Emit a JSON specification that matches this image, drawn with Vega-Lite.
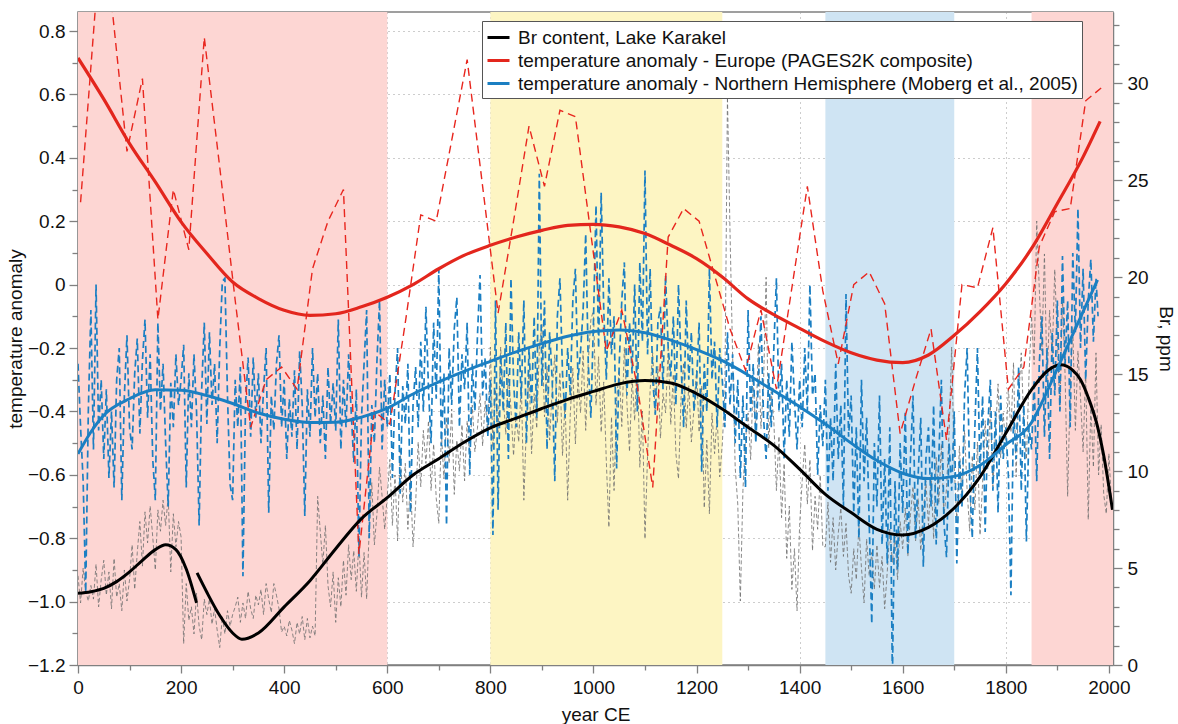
{
  "$schema": "https://vega.github.io/schema/vega-lite/v6.json",
  "width": 1035,
  "height": 653,
  "autosize": {"type": "none"},
  "padding": {"left": 78, "top": 12, "right": 65, "bottom": 59},
  "background": "white",
  "config": {
    "font": "Liberation Sans",
    "view": {"stroke": "#808080", "strokeWidth": 1.5},
    "axis": {
      "labelFont": "Liberation Sans", "labelFontSize": 19, "labelColor": "#111111",
      "titleFont": "Liberation Sans", "titleFontSize": 19, "titleFontWeight": "normal", "titleColor": "#111111",
      "domainColor": "#808080", "domainWidth": 1.5, "tickColor": "#808080", "tickWidth": 1.3,
      "gridColor": "#9a9a9a", "gridDash": [1, 4], "gridWidth": 1, "zindex": 1
    }
  },
  "datasets": {
    "periods": [
      {"period": "Roman Warm Period", "start": 0, "end": 600},
      {"period": "Medieval Climate Anomaly", "start": 800, "end": 1250},
      {"period": "Little Ice Age", "start": 1450, "end": 1700},
      {"period": "Modern warming", "start": 1850, "end": 2008}
    ],
    "brRaw": [
      {"year":0,"ppm":4.6},{"year":5,"ppm":3.2},{"year":10,"ppm":5.0},{"year":15,"ppm":3.8},{"year":20,"ppm":3.3},{"year":25,"ppm":4.1},{"year":30,"ppm":3.4},{"year":35,"ppm":5.2},{"year":40,"ppm":3.0},{"year":45,"ppm":4.4},
      {"year":50,"ppm":5.4},{"year":55,"ppm":3.6},{"year":60,"ppm":4.8},{"year":65,"ppm":2.9},{"year":70,"ppm":5.5},{"year":75,"ppm":3.5},{"year":80,"ppm":4.2},{"year":85,"ppm":2.8},{"year":90,"ppm":4.9},{"year":95,"ppm":3.3},
      {"year":100,"ppm":4.4},{"year":105,"ppm":6.2},{"year":110,"ppm":3.9},{"year":115,"ppm":5.8},{"year":120,"ppm":7.4},{"year":125,"ppm":5.1},{"year":130,"ppm":7.9},{"year":135,"ppm":6.3},{"year":140,"ppm":8.2},{"year":145,"ppm":6.6},
      {"year":150,"ppm":4.9},{"year":155,"ppm":8.0},{"year":160,"ppm":6.9},{"year":165,"ppm":8.5},{"year":170,"ppm":7.2},{"year":175,"ppm":8.7},{"year":180,"ppm":4.8},{"year":185,"ppm":7.8},{"year":190,"ppm":6.1},{"year":195,"ppm":7.4},
      {"year":200,"ppm":6.6},{"year":205,"ppm":1.1},{"year":210,"ppm":4.2},{"year":215,"ppm":2.3},{"year":220,"ppm":3.0},{"year":225,"ppm":1.6},{"year":230,"ppm":3.7},{"year":235,"ppm":2.0},{"year":240,"ppm":1.3},{"year":245,"ppm":3.4},
      {"year":250,"ppm":2.6},{"year":255,"ppm":3.4},{"year":260,"ppm":2.1},{"year":265,"ppm":2.9},{"year":270,"ppm":1.8},{"year":275,"ppm":0.9},{"year":280,"ppm":2.5},{"year":285,"ppm":1.6},{"year":290,"ppm":2.8},{"year":295,"ppm":2.0},
      {"year":300,"ppm":2.6},{"year":305,"ppm":3.0},{"year":310,"ppm":3.5},{"year":315,"ppm":2.2},{"year":320,"ppm":3.2},{"year":325,"ppm":2.4},{"year":330,"ppm":3.8},{"year":335,"ppm":2.9},{"year":340,"ppm":2.4},{"year":345,"ppm":3.6},
      {"year":350,"ppm":3.1},{"year":355,"ppm":3.9},{"year":360,"ppm":2.6},{"year":365,"ppm":4.2},{"year":370,"ppm":3.4},{"year":375,"ppm":2.7},{"year":380,"ppm":4.2},{"year":385,"ppm":3.6},{"year":390,"ppm":2.9},{"year":395,"ppm":1.7},
      {"year":400,"ppm":2.0},{"year":405,"ppm":1.5},{"year":410,"ppm":2.3},{"year":415,"ppm":1.8},{"year":420,"ppm":1.1},{"year":425,"ppm":2.2},{"year":430,"ppm":1.6},{"year":435,"ppm":2.5},{"year":440,"ppm":1.3},{"year":445,"ppm":2.4},
      {"year":450,"ppm":1.4},{"year":455,"ppm":2.0},{"year":460,"ppm":1.5},{"year":465,"ppm":8.7},{"year":470,"ppm":6.9},{"year":475,"ppm":5.2},{"year":480,"ppm":7.2},{"year":485,"ppm":4.1},{"year":490,"ppm":3.0},{"year":495,"ppm":4.8},
      {"year":500,"ppm":2.2},{"year":505,"ppm":4.5},{"year":510,"ppm":3.0},{"year":515,"ppm":5.4},{"year":520,"ppm":3.6},{"year":525,"ppm":6.2},{"year":530,"ppm":4.4},{"year":535,"ppm":5.9},{"year":540,"ppm":3.8},{"year":545,"ppm":6.4},
      {"year":550,"ppm":3.5},{"year":555,"ppm":5.8},{"year":560,"ppm":3.4},{"year":565,"ppm":7.0},{"year":570,"ppm":9.4},{"year":575,"ppm":6.2},{"year":580,"ppm":7.8},{"year":585,"ppm":10.2},{"year":590,"ppm":8.7},{"year":595,"ppm":7.0},
      {"year":600,"ppm":8.7},{"year":605,"ppm":10.6},{"year":610,"ppm":7.2},{"year":615,"ppm":9.8},{"year":620,"ppm":6.4},{"year":625,"ppm":11.2},{"year":630,"ppm":8.4},{"year":635,"ppm":10.4},{"year":640,"ppm":7.0},{"year":645,"ppm":9.6},
      {"year":650,"ppm":6.1},{"year":655,"ppm":8.3},{"year":660,"ppm":11.5},{"year":665,"ppm":9.2},{"year":670,"ppm":12.1},{"year":675,"ppm":10.4},{"year":680,"ppm":12.6},{"year":685,"ppm":9.0},{"year":690,"ppm":11.4},{"year":695,"ppm":8.6},
      {"year":700,"ppm":7.3},{"year":705,"ppm":12.0},{"year":710,"ppm":9.6},{"year":715,"ppm":12.8},{"year":720,"ppm":10.4},{"year":725,"ppm":13.2},{"year":730,"ppm":8.8},{"year":735,"ppm":11.6},{"year":740,"ppm":10.0},{"year":745,"ppm":12.4},
      {"year":750,"ppm":9.5},{"year":755,"ppm":12.6},{"year":760,"ppm":10.7},{"year":765,"ppm":13.4},{"year":770,"ppm":11.0},{"year":775,"ppm":12.2},{"year":780,"ppm":14.0},{"year":785,"ppm":11.3},{"year":790,"ppm":13.6},{"year":795,"ppm":12.0},
      {"year":800,"ppm":16.4},{"year":805,"ppm":11.2},{"year":810,"ppm":14.2},{"year":815,"ppm":12.0},{"year":820,"ppm":16.4},{"year":825,"ppm":13.8},{"year":830,"ppm":11.9},{"year":835,"ppm":15.0},{"year":840,"ppm":13.2},{"year":845,"ppm":10.8},
      {"year":850,"ppm":13.0},{"year":855,"ppm":11.5},{"year":860,"ppm":14.6},{"year":865,"ppm":8.5},{"year":870,"ppm":12.4},{"year":875,"ppm":15.2},{"year":880,"ppm":10.9},{"year":885,"ppm":14.0},{"year":890,"ppm":12.2},{"year":895,"ppm":16.3},
      {"year":900,"ppm":17.6},{"year":905,"ppm":12.8},{"year":910,"ppm":15.4},{"year":915,"ppm":11.6},{"year":920,"ppm":14.2},{"year":925,"ppm":16.0},{"year":930,"ppm":12.5},{"year":935,"ppm":15.1},{"year":940,"ppm":10.8},{"year":945,"ppm":13.6},
      {"year":950,"ppm":8.5},{"year":955,"ppm":12.9},{"year":960,"ppm":15.3},{"year":965,"ppm":11.4},{"year":970,"ppm":14.8},{"year":975,"ppm":13.0},{"year":980,"ppm":16.2},{"year":985,"ppm":12.1},{"year":990,"ppm":15.6},{"year":995,"ppm":17.8},
      {"year":1000,"ppm":18.3},{"year":1005,"ppm":13.4},{"year":1010,"ppm":15.9},{"year":1015,"ppm":12.0},{"year":1020,"ppm":14.6},{"year":1025,"ppm":10.5},{"year":1030,"ppm":7.1},{"year":1035,"ppm":12.8},{"year":1040,"ppm":9.0},{"year":1045,"ppm":13.7},
      {"year":1050,"ppm":15.2},{"year":1055,"ppm":12.3},{"year":1060,"ppm":16.4},{"year":1065,"ppm":13.5},{"year":1070,"ppm":11.0},{"year":1075,"ppm":14.8},{"year":1080,"ppm":12.6},{"year":1085,"ppm":15.9},{"year":1090,"ppm":10.2},{"year":1095,"ppm":13.1},
      {"year":1100,"ppm":6.5},{"year":1105,"ppm":10.8},{"year":1110,"ppm":14.2},{"year":1115,"ppm":16.1},{"year":1120,"ppm":12.9},{"year":1125,"ppm":15.4},{"year":1130,"ppm":11.7},{"year":1135,"ppm":14.0},{"year":1140,"ppm":13.0},{"year":1145,"ppm":16.3},
      {"year":1150,"ppm":12.4},{"year":1155,"ppm":15.0},{"year":1160,"ppm":10.9},{"year":1165,"ppm":9.6},{"year":1170,"ppm":13.8},{"year":1175,"ppm":15.6},{"year":1180,"ppm":12.2},{"year":1185,"ppm":14.4},{"year":1190,"ppm":11.5},{"year":1195,"ppm":13.2},
      {"year":1200,"ppm":15.2},{"year":1205,"ppm":12.0},{"year":1210,"ppm":14.4},{"year":1215,"ppm":8.1},{"year":1220,"ppm":11.6},{"year":1225,"ppm":7.8},{"year":1230,"ppm":13.0},{"year":1235,"ppm":10.9},{"year":1240,"ppm":12.8},{"year":1245,"ppm":9.7},
      {"year":1250,"ppm":11.4},{"year":1255,"ppm":14.0},{"year":1260,"ppm":29.3},{"year":1265,"ppm":22.3},{"year":1270,"ppm":16.0},{"year":1275,"ppm":10.2},{"year":1280,"ppm":8.3},{"year":1285,"ppm":3.3},{"year":1290,"ppm":9.0},{"year":1295,"ppm":11.6},
      {"year":1300,"ppm":13.0},{"year":1305,"ppm":10.6},{"year":1310,"ppm":14.7},{"year":1315,"ppm":12.1},{"year":1320,"ppm":16.6},{"year":1325,"ppm":12.2},{"year":1330,"ppm":14.5},{"year":1335,"ppm":20.0},{"year":1340,"ppm":11.2},{"year":1345,"ppm":14.1},
      {"year":1350,"ppm":12.6},{"year":1355,"ppm":9.0},{"year":1360,"ppm":11.8},{"year":1365,"ppm":7.6},{"year":1370,"ppm":10.4},{"year":1375,"ppm":5.5},{"year":1380,"ppm":8.2},{"year":1385,"ppm":3.9},{"year":1390,"ppm":6.0},{"year":1395,"ppm":2.8},
      {"year":1400,"ppm":7.2},{"year":1405,"ppm":9.5},{"year":1410,"ppm":11.4},{"year":1415,"ppm":8.3},{"year":1420,"ppm":10.6},{"year":1425,"ppm":5.9},{"year":1430,"ppm":8.7},{"year":1435,"ppm":7.0},{"year":1440,"ppm":9.8},{"year":1445,"ppm":6.1},
      {"year":1450,"ppm":6.1},{"year":1455,"ppm":8.4},{"year":1460,"ppm":5.3},{"year":1465,"ppm":7.6},{"year":1470,"ppm":4.9},{"year":1475,"ppm":6.8},{"year":1480,"ppm":8.1},{"year":1485,"ppm":5.6},{"year":1490,"ppm":7.3},{"year":1495,"ppm":4.6},
      {"year":1500,"ppm":3.7},{"year":1505,"ppm":6.0},{"year":1510,"ppm":4.4},{"year":1515,"ppm":7.2},{"year":1520,"ppm":5.0},{"year":1525,"ppm":3.2},{"year":1530,"ppm":6.5},{"year":1535,"ppm":4.6},{"year":1540,"ppm":5.8},{"year":1545,"ppm":3.9},
      {"year":1550,"ppm":6.2},{"year":1555,"ppm":4.0},{"year":1560,"ppm":5.6},{"year":1565,"ppm":2.9},{"year":1570,"ppm":4.8},{"year":1575,"ppm":7.0},{"year":1580,"ppm":5.3},{"year":1585,"ppm":6.6},{"year":1590,"ppm":4.4},{"year":1595,"ppm":7.4},
      {"year":1600,"ppm":6.0},{"year":1605,"ppm":8.1},{"year":1610,"ppm":5.6},{"year":1615,"ppm":7.7},{"year":1620,"ppm":9.2},{"year":1625,"ppm":6.4},{"year":1630,"ppm":8.6},{"year":1635,"ppm":5.9},{"year":1640,"ppm":7.9},{"year":1645,"ppm":9.5},
      {"year":1650,"ppm":7.2},{"year":1655,"ppm":9.8},{"year":1660,"ppm":6.5},{"year":1665,"ppm":10.7},{"year":1670,"ppm":8.3},{"year":1675,"ppm":11.4},{"year":1680,"ppm":7.6},{"year":1685,"ppm":9.1},{"year":1690,"ppm":12.0},{"year":1695,"ppm":16.4},
      {"year":1700,"ppm":10.2},{"year":1705,"ppm":7.4},{"year":1710,"ppm":11.3},{"year":1715,"ppm":8.6},{"year":1720,"ppm":12.1},{"year":1725,"ppm":9.0},{"year":1730,"ppm":6.9},{"year":1735,"ppm":10.8},{"year":1740,"ppm":8.0},{"year":1745,"ppm":11.5},
      {"year":1750,"ppm":6.7},{"year":1755,"ppm":9.4},{"year":1760,"ppm":12.6},{"year":1765,"ppm":10.1},{"year":1770,"ppm":13.4},{"year":1775,"ppm":9.2},{"year":1780,"ppm":12.0},{"year":1785,"ppm":14.5},{"year":1790,"ppm":10.7},{"year":1795,"ppm":13.0},
      {"year":1800,"ppm":11.2},{"year":1805,"ppm":14.3},{"year":1810,"ppm":12.0},{"year":1815,"ppm":15.6},{"year":1820,"ppm":9.7},{"year":1825,"ppm":13.8},{"year":1830,"ppm":16.1},{"year":1835,"ppm":12.4},{"year":1840,"ppm":10.6},{"year":1845,"ppm":14.9},
      {"year":1850,"ppm":18.0},{"year":1855,"ppm":15.5},{"year":1860,"ppm":22.9},{"year":1865,"ppm":19.4},{"year":1870,"ppm":16.2},{"year":1875,"ppm":21.2},{"year":1880,"ppm":14.6},{"year":1885,"ppm":18.3},{"year":1890,"ppm":15.9},{"year":1895,"ppm":20.4},
      {"year":1900,"ppm":16.7},{"year":1905,"ppm":13.2},{"year":1910,"ppm":18.9},{"year":1915,"ppm":15.0},{"year":1920,"ppm":8.7},{"year":1925,"ppm":14.3},{"year":1930,"ppm":17.4},{"year":1935,"ppm":12.1},{"year":1940,"ppm":16.2},{"year":1945,"ppm":13.8},
      {"year":1950,"ppm":11.0},{"year":1955,"ppm":15.2},{"year":1960,"ppm":7.5},{"year":1965,"ppm":13.4},{"year":1970,"ppm":10.2},{"year":1975,"ppm":16.1},{"year":1980,"ppm":9.8},{"year":1985,"ppm":12.4},{"year":1990,"ppm":8.8},{"year":1995,"ppm":7.8},
      {"year":2000,"ppm":10.9},{"year":2005,"ppm":8.4}
    ],
    "brFit": [
      {"seg":"a","year":0,"ppm":3.7},{"seg":"a","year":25,"ppm":3.78},{"seg":"a","year":50,"ppm":3.95},{"seg":"a","year":75,"ppm":4.3},{"seg":"a","year":100,"ppm":4.8},{"seg":"a","year":125,"ppm":5.4},{"seg":"a","year":150,"ppm":5.95},{"seg":"a","year":170,"ppm":6.2},{"seg":"a","year":190,"ppm":5.95},{"seg":"a","year":210,"ppm":4.95},{"seg":"a","year":230,"ppm":3.2},
      {"seg":"b","year":231,"ppm":4.75},{"seg":"b","year":250,"ppm":3.75},{"seg":"b","year":275,"ppm":2.55},{"seg":"b","year":300,"ppm":1.65},{"seg":"b","year":318,"ppm":1.33},{"seg":"b","year":350,"ppm":1.65},{"seg":"b","year":400,"ppm":3.0},{"seg":"b","year":450,"ppm":4.35},{"seg":"b","year":500,"ppm":6.0},{"seg":"b","year":550,"ppm":7.55},{"seg":"b","year":600,"ppm":8.63},{"seg":"b","year":650,"ppm":9.8},{"seg":"b","year":700,"ppm":10.64},{"seg":"b","year":750,"ppm":11.5},{"seg":"b","year":800,"ppm":12.23},{"seg":"b","year":850,"ppm":12.73},{"seg":"b","year":900,"ppm":13.23},{"seg":"b","year":950,"ppm":13.7},{"seg":"b","year":1000,"ppm":14.11},{"seg":"b","year":1050,"ppm":14.5},{"seg":"b","year":1100,"ppm":14.67},{"seg":"b","year":1150,"ppm":14.55},{"seg":"b","year":1200,"ppm":14.0},{"seg":"b","year":1250,"ppm":13.2},{"seg":"b","year":1300,"ppm":12.26},{"seg":"b","year":1350,"ppm":11.33},{"seg":"b","year":1400,"ppm":10.1},{"seg":"b","year":1450,"ppm":8.8},{"seg":"b","year":1500,"ppm":7.86},{"seg":"b","year":1550,"ppm":7.0},{"seg":"b","year":1600,"ppm":6.71},{"seg":"b","year":1650,"ppm":7.1},{"seg":"b","year":1700,"ppm":8.1},{"seg":"b","year":1750,"ppm":9.7},{"seg":"b","year":1800,"ppm":11.95},{"seg":"b","year":1850,"ppm":14.2},{"seg":"b","year":1880,"ppm":15.15},{"seg":"b","year":1906,"ppm":15.48},{"seg":"b","year":1930,"ppm":15.2},{"seg":"b","year":1945,"ppm":14.71},{"seg":"b","year":1960,"ppm":13.8},{"seg":"b","year":1978,"ppm":12.3},{"seg":"b","year":1990,"ppm":10.8},{"seg":"b","year":2007,"ppm":8.0}
    ],
    "nhRaw": [
      {"year":0,"t":-0.25},{"year":5,"t":-0.45},{"year":10,"t":-0.62},{"year":15,"t":-0.97},{"year":20,"t":-0.4},{"year":25,"t":-0.08},{"year":30,"t":-0.52},{"year":35,"t":0.0},{"year":40,"t":-0.46},{"year":45,"t":-0.3},
      {"year":50,"t":-0.55},{"year":55,"t":-0.33},{"year":60,"t":-0.61},{"year":65,"t":-0.4},{"year":70,"t":-0.64},{"year":75,"t":-0.3},{"year":80,"t":-0.2},{"year":85,"t":-0.68},{"year":90,"t":-0.35},{"year":95,"t":-0.16},
      {"year":100,"t":-0.45},{"year":105,"t":-0.52},{"year":110,"t":-0.28},{"year":115,"t":-0.17},{"year":120,"t":-0.47},{"year":125,"t":-0.24},{"year":130,"t":-0.11},{"year":135,"t":-0.42},{"year":140,"t":-0.22},{"year":145,"t":-0.55},
      {"year":150,"t":-0.68},{"year":155,"t":-0.12},{"year":160,"t":-0.4},{"year":165,"t":-0.25},{"year":170,"t":-0.5},{"year":175,"t":-0.7},{"year":180,"t":-0.31},{"year":185,"t":-0.45},{"year":190,"t":-0.22},{"year":195,"t":-0.38},
      {"year":200,"t":-0.3},{"year":205,"t":-0.19},{"year":210,"t":-0.64},{"year":215,"t":-0.28},{"year":220,"t":-0.45},{"year":225,"t":-0.22},{"year":230,"t":-0.4},{"year":235,"t":-0.76},{"year":240,"t":-0.33},{"year":245,"t":-0.12},
      {"year":250,"t":-0.44},{"year":255,"t":-0.15},{"year":260,"t":-0.38},{"year":265,"t":-0.25},{"year":270,"t":-0.5},{"year":275,"t":-0.2},{"year":280,"t":0.01},{"year":285,"t":0.02},{"year":290,"t":-0.35},{"year":295,"t":-0.63},
      {"year":300,"t":-0.68},{"year":305,"t":-0.3},{"year":310,"t":-0.45},{"year":315,"t":-0.26},{"year":320,"t":-0.92},{"year":325,"t":-0.38},{"year":330,"t":-0.23},{"year":335,"t":-0.48},{"year":340,"t":-0.23},{"year":345,"t":-0.42},
      {"year":350,"t":-0.28},{"year":355,"t":-0.5},{"year":360,"t":-0.33},{"year":365,"t":-0.2},{"year":370,"t":-0.72},{"year":375,"t":-0.35},{"year":380,"t":-0.46},{"year":385,"t":-0.25},{"year":390,"t":-0.16},{"year":395,"t":-0.45},
      {"year":400,"t":-0.3},{"year":405,"t":-0.55},{"year":410,"t":-0.36},{"year":415,"t":-0.48},{"year":420,"t":-0.27},{"year":425,"t":-0.52},{"year":430,"t":-0.21},{"year":435,"t":-0.38},{"year":440,"t":-0.73},{"year":445,"t":-0.33},
      {"year":450,"t":-0.48},{"year":455,"t":-0.2},{"year":460,"t":-0.42},{"year":465,"t":-0.28},{"year":470,"t":-0.5},{"year":475,"t":-0.35},{"year":480,"t":-0.55},{"year":485,"t":-0.26},{"year":490,"t":-0.44},{"year":495,"t":-0.31},
      {"year":500,"t":-0.46},{"year":505,"t":-0.11},{"year":510,"t":-0.52},{"year":515,"t":-0.3},{"year":520,"t":-0.45},{"year":525,"t":-0.22},{"year":530,"t":-0.4},{"year":535,"t":-0.56},{"year":540,"t":-0.33},{"year":545,"t":-0.86},
      {"year":550,"t":-0.42},{"year":555,"t":-0.25},{"year":560,"t":-0.08},{"year":565,"t":-0.8},{"year":570,"t":-0.38},{"year":575,"t":-0.5},{"year":580,"t":-0.24},{"year":585,"t":-0.05},{"year":590,"t":-0.52},{"year":595,"t":-0.3},
      {"year":600,"t":-0.45},{"year":605,"t":-0.28},{"year":610,"t":-0.61},{"year":615,"t":-0.34},{"year":620,"t":-0.2},{"year":625,"t":-0.66},{"year":630,"t":-0.32},{"year":635,"t":-0.44},{"year":640,"t":-0.25},{"year":645,"t":-0.72},
      {"year":650,"t":-0.38},{"year":655,"t":-0.26},{"year":660,"t":-0.45},{"year":665,"t":-0.18},{"year":670,"t":-0.4},{"year":675,"t":-0.07},{"year":680,"t":-0.33},{"year":685,"t":-0.5},{"year":690,"t":-0.12},{"year":695,"t":-0.36},
      {"year":700,"t":0.05},{"year":705,"t":-0.51},{"year":710,"t":-0.28},{"year":715,"t":-0.76},{"year":720,"t":-0.2},{"year":725,"t":-0.38},{"year":730,"t":-0.14},{"year":735,"t":-0.04},{"year":740,"t":-0.45},{"year":745,"t":-0.22},
      {"year":750,"t":-0.33},{"year":755,"t":-0.12},{"year":760,"t":-0.6},{"year":765,"t":-0.25},{"year":770,"t":-0.4},{"year":775,"t":-0.16},{"year":780,"t":0.03},{"year":785,"t":-0.35},{"year":790,"t":-0.23},{"year":795,"t":-0.48},
      {"year":800,"t":-0.3},{"year":805,"t":-0.79},{"year":810,"t":-0.05},{"year":815,"t":-0.71},{"year":820,"t":-0.22},{"year":825,"t":-0.4},{"year":830,"t":-0.12},{"year":835,"t":-0.55},{"year":840,"t":0.02},{"year":845,"t":-0.3},
      {"year":850,"t":-0.45},{"year":855,"t":-0.15},{"year":860,"t":-0.36},{"year":865,"t":-0.05},{"year":870,"t":-0.5},{"year":875,"t":-0.2},{"year":880,"t":-0.38},{"year":885,"t":-0.1},{"year":890,"t":-0.42},{"year":895,"t":0.35},
      {"year":900,"t":-0.32},{"year":905,"t":-0.05},{"year":910,"t":-0.52},{"year":915,"t":-0.15},{"year":920,"t":-0.3},{"year":925,"t":-0.62},{"year":930,"t":-0.1},{"year":935,"t":0.02},{"year":940,"t":-0.28},{"year":945,"t":-0.42},
      {"year":950,"t":-0.2},{"year":955,"t":-0.35},{"year":960,"t":-0.05},{"year":965,"t":0.05},{"year":970,"t":-0.3},{"year":975,"t":-0.21},{"year":980,"t":-0.08},{"year":985,"t":0.16},{"year":990,"t":-0.25},{"year":995,"t":-0.42},
      {"year":1000,"t":-0.12},{"year":1005,"t":0.25},{"year":1010,"t":-0.2},{"year":1015,"t":0.29},{"year":1020,"t":-0.08},{"year":1025,"t":-0.3},{"year":1030,"t":0.02},{"year":1035,"t":-0.22},{"year":1040,"t":-0.1},{"year":1045,"t":-0.58},
      {"year":1050,"t":-0.25},{"year":1055,"t":-0.05},{"year":1060,"t":0.07},{"year":1065,"t":-0.35},{"year":1070,"t":-0.12},{"year":1075,"t":-0.28},{"year":1080,"t":0.0},{"year":1085,"t":-0.4},{"year":1090,"t":0.07},{"year":1095,"t":-0.18},
      {"year":1100,"t":0.36},{"year":1105,"t":-0.22},{"year":1110,"t":0.05},{"year":1115,"t":-0.3},{"year":1120,"t":-0.41},{"year":1125,"t":-0.12},{"year":1130,"t":-0.07},{"year":1135,"t":-0.33},{"year":1140,"t":0.03},{"year":1145,"t":-0.2},
      {"year":1150,"t":-0.29},{"year":1155,"t":-0.1},{"year":1160,"t":-0.38},{"year":1165,"t":0.0},{"year":1170,"t":-0.25},{"year":1175,"t":-0.45},{"year":1180,"t":-0.05},{"year":1185,"t":-0.3},{"year":1190,"t":-0.15},{"year":1195,"t":-0.4},
      {"year":1200,"t":-0.31},{"year":1205,"t":-0.12},{"year":1210,"t":-0.59},{"year":1215,"t":-0.25},{"year":1220,"t":-0.4},{"year":1225,"t":0.05},{"year":1230,"t":-0.3},{"year":1235,"t":-0.18},{"year":1240,"t":-0.45},{"year":1245,"t":-0.2},
      {"year":1250,"t":-0.3},{"year":1255,"t":-0.45},{"year":1260,"t":-0.15},{"year":1265,"t":-0.38},{"year":1270,"t":-0.22},{"year":1275,"t":-0.5},{"year":1280,"t":-0.3},{"year":1285,"t":-0.61},{"year":1290,"t":-0.35},{"year":1295,"t":-0.64},
      {"year":1300,"t":-0.08},{"year":1305,"t":-0.4},{"year":1310,"t":-0.25},{"year":1315,"t":-0.5},{"year":1320,"t":-0.3},{"year":1325,"t":-0.1},{"year":1330,"t":-0.42},{"year":1335,"t":-0.55},{"year":1340,"t":-0.28},{"year":1345,"t":-0.45},
      {"year":1350,"t":-0.2},{"year":1355,"t":0.02},{"year":1360,"t":-0.4},{"year":1365,"t":-0.25},{"year":1370,"t":-0.55},{"year":1375,"t":-0.3},{"year":1380,"t":-0.48},{"year":1385,"t":-0.18},{"year":1390,"t":-0.36},{"year":1395,"t":-0.52},
      {"year":1400,"t":-0.3},{"year":1405,"t":-0.45},{"year":1410,"t":-0.2},{"year":1415,"t":-0.4},{"year":1420,"t":0.0},{"year":1425,"t":-0.35},{"year":1430,"t":-0.28},{"year":1435,"t":-0.6},{"year":1440,"t":-0.38},{"year":1445,"t":-0.51},
      {"year":1450,"t":-0.3},{"year":1455,"t":-0.65},{"year":1460,"t":-0.42},{"year":1465,"t":-0.62},{"year":1470,"t":-0.25},{"year":1475,"t":-0.55},{"year":1480,"t":-0.38},{"year":1485,"t":-0.7},{"year":1490,"t":-0.03},{"year":1495,"t":-0.48},
      {"year":1500,"t":-0.35},{"year":1505,"t":-0.72},{"year":1510,"t":-0.45},{"year":1515,"t":-0.8},{"year":1520,"t":-0.3},{"year":1525,"t":-0.62},{"year":1530,"t":-0.42},{"year":1535,"t":-0.75},{"year":1540,"t":-1.07},{"year":1545,"t":-0.5},
      {"year":1550,"t":-0.7},{"year":1555,"t":-0.35},{"year":1560,"t":-0.82},{"year":1565,"t":-0.55},{"year":1570,"t":-0.88},{"year":1575,"t":-0.45},{"year":1580,"t":-1.25},{"year":1585,"t":-0.62},{"year":1590,"t":-0.9},{"year":1595,"t":-0.5},
      {"year":1600,"t":-0.72},{"year":1605,"t":-0.4},{"year":1610,"t":-0.85},{"year":1615,"t":-0.55},{"year":1620,"t":-0.35},{"year":1625,"t":-0.8},{"year":1630,"t":-0.6},{"year":1635,"t":-0.42},{"year":1640,"t":-0.89},{"year":1645,"t":-0.55},
      {"year":1650,"t":-0.45},{"year":1655,"t":-0.7},{"year":1660,"t":-0.38},{"year":1665,"t":-0.82},{"year":1670,"t":-0.55},{"year":1675,"t":-0.3},{"year":1680,"t":-0.75},{"year":1685,"t":-0.86},{"year":1690,"t":-0.5},{"year":1695,"t":-0.65},
      {"year":1700,"t":-0.4},{"year":1705,"t":-0.88},{"year":1710,"t":-0.55},{"year":1715,"t":-0.7},{"year":1720,"t":-0.35},{"year":1725,"t":-0.2},{"year":1730,"t":-0.62},{"year":1735,"t":-0.8},{"year":1740,"t":-0.45},{"year":1745,"t":-0.2},
      {"year":1750,"t":-0.6},{"year":1755,"t":-0.35},{"year":1760,"t":-0.78},{"year":1765,"t":-0.45},{"year":1770,"t":-0.3},{"year":1775,"t":-0.65},{"year":1780,"t":-0.4},{"year":1785,"t":-0.72},{"year":1790,"t":-0.35},{"year":1795,"t":-0.55},
      {"year":1800,"t":-0.45},{"year":1805,"t":-0.6},{"year":1810,"t":-0.98},{"year":1815,"t":-0.4},{"year":1820,"t":-0.55},{"year":1825,"t":-0.26},{"year":1830,"t":-0.65},{"year":1835,"t":-0.38},{"year":1840,"t":-0.81},{"year":1845,"t":-0.45},
      {"year":1850,"t":-0.52},{"year":1855,"t":-0.3},{"year":1860,"t":-0.62},{"year":1865,"t":-0.25},{"year":1870,"t":-0.1},{"year":1875,"t":-0.48},{"year":1880,"t":-0.2},{"year":1885,"t":-0.55},{"year":1890,"t":-0.15},{"year":1895,"t":-0.35},
      {"year":1900,"t":-0.05},{"year":1905,"t":-0.4},{"year":1910,"t":0.09},{"year":1915,"t":-0.25},{"year":1920,"t":-0.05},{"year":1925,"t":-0.45},{"year":1930,"t":0.1},{"year":1935,"t":-0.15},{"year":1940,"t":0.24},{"year":1945,"t":-0.2},
      {"year":1950,"t":0.05},{"year":1955,"t":-0.3},{"year":1960,"t":-0.05},{"year":1965,"t":0.08},{"year":1970,"t":-0.18},{"year":1975,"t":0.02},{"year":1979,"t":-0.1}
    ],
    "nhFit": [
      {"year":0,"t":-0.534},{"year":25,"t":-0.465},{"year":50,"t":-0.412},{"year":100,"t":-0.36},{"year":150,"t":-0.332},{"year":200,"t":-0.333},{"year":250,"t":-0.35},{"year":300,"t":-0.375},{"year":350,"t":-0.405},{"year":400,"t":-0.425},{"year":450,"t":-0.435},{"year":500,"t":-0.434},{"year":550,"t":-0.418},{"year":600,"t":-0.39},{"year":650,"t":-0.345},{"year":700,"t":-0.307},{"year":750,"t":-0.273},{"year":800,"t":-0.242},{"year":850,"t":-0.212},{"year":900,"t":-0.186},{"year":950,"t":-0.163},{"year":1000,"t":-0.148},{"year":1050,"t":-0.143},{"year":1100,"t":-0.152},{"year":1150,"t":-0.175},{"year":1200,"t":-0.205},{"year":1250,"t":-0.24},{"year":1300,"t":-0.285},{"year":1350,"t":-0.335},{"year":1400,"t":-0.385},{"year":1450,"t":-0.44},{"year":1500,"t":-0.5},{"year":1550,"t":-0.555},{"year":1600,"t":-0.595},{"year":1650,"t":-0.612},{"year":1700,"t":-0.605},{"year":1750,"t":-0.57},{"year":1800,"t":-0.505},{"year":1850,"t":-0.435},{"year":1875,"t":-0.355},{"year":1900,"t":-0.265},{"year":1925,"t":-0.175},{"year":1950,"t":-0.085},{"year":1978,"t":0.015}
    ],
    "euRaw": [
      {"year":5,"t":0.26},{"year":35,"t":0.9},{"year":65,"t":0.89},{"year":95,"t":0.42},{"year":125,"t":0.65},{"year":155,"t":-0.11},{"year":185,"t":0.3},{"year":215,"t":0.11},{"year":245,"t":0.78},{"year":275,"t":0.37},
      {"year":305,"t":-0.05},{"year":335,"t":-0.45},{"year":365,"t":-0.3},{"year":395,"t":-0.26},{"year":425,"t":-0.33},{"year":455,"t":0.05},{"year":485,"t":0.2},{"year":515,"t":0.3},{"year":545,"t":-0.85},{"year":575,"t":-0.4},
      {"year":605,"t":-0.44},{"year":635,"t":-0.12},{"year":665,"t":0.22},{"year":695,"t":0.2},{"year":725,"t":0.455},{"year":755,"t":0.71},{"year":785,"t":0.31},{"year":815,"t":-0.09},{"year":845,"t":0.2},{"year":875,"t":0.5},
      {"year":905,"t":0.31},{"year":935,"t":0.55},{"year":965,"t":0.53},{"year":995,"t":0.16},{"year":1025,"t":-0.21},{"year":1055,"t":-0.08},{"year":1085,"t":-0.32},{"year":1115,"t":-0.64},{"year":1145,"t":0.15},{"year":1175,"t":0.24},
      {"year":1205,"t":0.2},{"year":1235,"t":0.03},{"year":1265,"t":-0.14},{"year":1295,"t":-0.27},{"year":1325,"t":-0.08},{"year":1355,"t":-0.33},{"year":1385,"t":-0.01},{"year":1415,"t":0.31},{"year":1445,"t":-0.02},{"year":1475,"t":-0.25},
      {"year":1505,"t":0.0},{"year":1535,"t":0.04},{"year":1565,"t":-0.06},{"year":1595,"t":-0.47},{"year":1625,"t":-0.3},{"year":1655,"t":-0.14},{"year":1685,"t":-0.49},{"year":1715,"t":0.0},{"year":1745,"t":-0.01},{"year":1775,"t":0.18},
      {"year":1805,"t":-0.33},{"year":1835,"t":-0.26},{"year":1865,"t":0.12},{"year":1895,"t":0.23},{"year":1925,"t":0.24},{"year":1955,"t":0.58},{"year":1985,"t":0.62}
    ],
    "euFit": [
      {"year":0,"t":0.715},{"year":50,"t":0.585},{"year":100,"t":0.445},{"year":150,"t":0.324},{"year":200,"t":0.198},{"year":250,"t":0.098},{"year":300,"t":0.008},{"year":350,"t":-0.044},{"year":400,"t":-0.081},{"year":450,"t":-0.097},{"year":500,"t":-0.092},{"year":550,"t":-0.07},{"year":600,"t":-0.04},{"year":650,"t":0.0},{"year":700,"t":0.05},{"year":750,"t":0.093},{"year":800,"t":0.124},{"year":850,"t":0.15},{"year":900,"t":0.171},{"year":950,"t":0.187},{"year":1000,"t":0.19},{"year":1050,"t":0.182},{"year":1100,"t":0.161},{"year":1150,"t":0.124},{"year":1200,"t":0.082},{"year":1250,"t":0.024},{"year":1300,"t":-0.045},{"year":1350,"t":-0.095},{"year":1400,"t":-0.138},{"year":1450,"t":-0.18},{"year":1500,"t":-0.215},{"year":1550,"t":-0.238},{"year":1600,"t":-0.246},{"year":1650,"t":-0.222},{"year":1700,"t":-0.16},{"year":1750,"t":-0.085},{"year":1800,"t":0.003},{"year":1850,"t":0.114},{"year":1900,"t":0.256},{"year":1950,"t":0.403},{"year":1983,"t":0.515}
    ]
  },
  "resolve": {"scale": {"y": "independent"}},
  "layer": [
    {
      "data": {"name": "periods"},
      "mark": {"type": "rect"},
      "encoding": {
        "x": {
          "field": "start", "type": "quantitative",
          "scale": {"domain": [0, 2008], "nice": false, "zero": false},
          "axis": {
            "title": "year CE",
            "values": [0,100,200,300,400,500,600,700,800,900,1000,1100,1200,1300,1400,1500,1600,1700,1800,1900,2000],
            "format": "d",
            "labelFlush": false,
            "labelExpr": "datum.value % 200 == 0 ? datum.label : ''",
            "tickSize": {"condition": {"test": "datum.value % 200 == 0", "value": 8}, "value": 5},
            "grid": true,
            "gridOpacity": {"condition": {"test": "datum.value % 200 == 0", "value": 1}, "value": 0},
            "labelPadding": 5,
            "titlePadding": 8
          }
        },
        "x2": {"field": "end"},
        "fill": {
          "field": "period", "type": "nominal",
          "scale": {
            "domain": ["Roman Warm Period", "Medieval Climate Anomaly", "Little Ice Age", "Modern warming"],
            "range": ["#fdd6d3", "#fdf5c3", "#cfe4f3", "#fdd6d3"]
          },
          "legend": null
        }
      }
    },
    {
      "data": {"name": "brRaw"},
      "mark": {"type": "line", "stroke": "#6e6e6e", "strokeWidth": 0.9, "strokeDash": [4, 2.5], "opacity": 0.9, "clip": true},
      "encoding": {
        "x": {"field": "year", "type": "quantitative", "scale": {"domain": [0, 2008], "nice": false, "zero": false}},
        "y": {"field": "ppm", "type": "quantitative", "scale": {"domain": [0, 33.68], "nice": false, "zero": false}, "axis": null}
      }
    },
    {
      "data": {"name": "nhRaw"},
      "mark": {"type": "line", "stroke": "#1b7fc3", "strokeWidth": 1.7, "strokeDash": [7, 4], "clip": true},
      "encoding": {
        "x": {"field": "year", "type": "quantitative", "scale": {"domain": [0, 2008], "nice": false, "zero": false}},
        "y": {
          "field": "t", "type": "quantitative",
          "scale": {"domain": [-1.2, 0.86], "nice": false, "zero": false},
          "axis": {
            "orient": "left",
            "title": "temperature anomaly",
            "values": [-1.2,-1.1,-1.0,-0.9,-0.8,-0.7,-0.6,-0.5,-0.4,-0.3,-0.2,-0.1,0,0.1,0.2,0.3,0.4,0.5,0.6,0.7,0.8],
            "format": ".1f",
            "labelExpr": "round(datum.value*10) % 2 != 0 ? '' : (datum.value == 0 ? '0' : datum.label)",
            "tickSize": {"condition": {"test": "round(datum.value*10) % 2 == 0", "value": 9}, "value": 6},
            "grid": true,
            "gridOpacity": {"condition": {"test": "round(datum.value*10) % 2 == 0", "value": 1}, "value": 0},
            "labelPadding": 4,
            "titlePadding": 2
          }
        }
      }
    },
    {
      "data": {"name": "euRaw"},
      "mark": {"type": "line", "stroke": "#e8261e", "strokeWidth": 1.4, "strokeDash": [8, 5], "clip": true},
      "encoding": {
        "x": {"field": "year", "type": "quantitative", "scale": {"domain": [0, 2008], "nice": false, "zero": false}},
        "y": {"field": "t", "type": "quantitative", "scale": {"domain": [-1.2, 0.86], "nice": false, "zero": false}, "axis": null}
      }
    },
    {
      "data": {"name": "brFit"},
      "mark": {"type": "line", "strokeWidth": 3, "interpolate": "monotone", "clip": true},
      "encoding": {
        "x": {"field": "year", "type": "quantitative", "scale": {"domain": [0, 2008], "nice": false, "zero": false}},
        "y": {
          "field": "ppm", "type": "quantitative",
          "scale": {"domain": [0, 33.68], "nice": false, "zero": false},
          "axis": {
            "orient": "right",
            "title": "Br, ppm",
            "titleAngle": 90,
            "values": [0,1,2,3,4,5,6,7,8,9,10,11,12,13,14,15,16,17,18,19,20,21,22,23,24,25,26,27,28,29,30,31,32,33],
            "labelExpr": "datum.value % 5 == 0 ? datum.label : ''",
            "tickSize": {"condition": {"test": "datum.value % 5 == 0", "value": 9}, "value": 6},
            "grid": false,
            "labelPadding": 5,
            "titlePadding": 7
          }
        },
        "detail": {"field": "seg", "type": "nominal"},
        "stroke": {
          "datum": "Br content, Lake Karakel", "type": "nominal",
          "scale": {
            "domain": ["Br content, Lake Karakel", "temperature anomaly - Europe (PAGES2K composite)", "temperature anomaly - Northern Hemisphere (Moberg et al., 2005)"],
            "range": ["#000000", "#e3261d", "#1b7fc2"]
          },
          "legend": {
            "orient": "none", "legendX": 404, "legendY": 9,
            "title": null,
            "symbolType": "stroke", "symbolSize": 484, "symbolStrokeWidth": 3,
            "labelFont": "Liberation Sans", "labelFontSize": 19, "labelColor": "#111111", "labelLimit": 800, "labelOffset": 7,
            "padding": 4, "rowPadding": 0,
            "strokeColor": "#555555", "fillColor": "#ffffff"
          }
        }
      }
    },
    {
      "data": {"name": "euFit"},
      "mark": {"type": "line", "strokeWidth": 3.2, "interpolate": "monotone", "clip": true},
      "encoding": {
        "x": {"field": "year", "type": "quantitative", "scale": {"domain": [0, 2008], "nice": false, "zero": false}},
        "y": {"field": "t", "type": "quantitative", "scale": {"domain": [-1.2, 0.86], "nice": false, "zero": false}, "axis": null},
        "stroke": {"datum": "temperature anomaly - Europe (PAGES2K composite)", "type": "nominal"}
      }
    },
    {
      "data": {"name": "nhFit"},
      "mark": {"type": "line", "strokeWidth": 3, "interpolate": "monotone", "clip": true},
      "encoding": {
        "x": {"field": "year", "type": "quantitative", "scale": {"domain": [0, 2008], "nice": false, "zero": false}},
        "y": {"field": "t", "type": "quantitative", "scale": {"domain": [-1.2, 0.86], "nice": false, "zero": false}, "axis": null},
        "stroke": {"datum": "temperature anomaly - Northern Hemisphere (Moberg et al., 2005)", "type": "nominal"}
      }
    }
  ]
}
